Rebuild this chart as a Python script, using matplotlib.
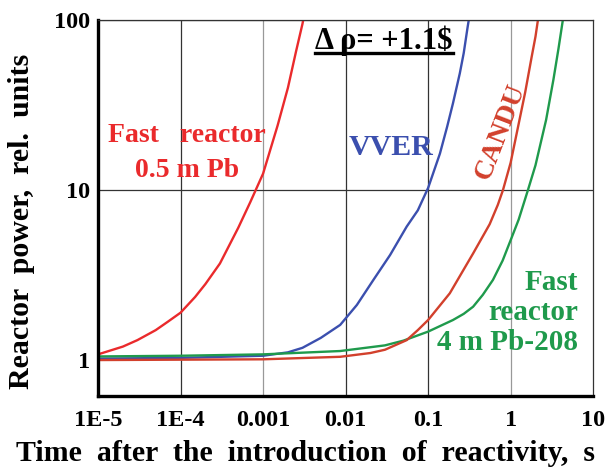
import matplotlib

matplotlib.use("Agg")
import matplotlib.pyplot as plt
from matplotlib.lines import Line2D

plt.rcParams["font.family"] = ["Liberation Serif", "DejaVu Serif"]
plt.rcParams["font.weight"] = "bold"

# data (time in s, power in rel. units)
fr_pb_t = [1e-5, 2e-5, 3e-5, 5e-5, 7e-5, 1e-4, 1.5e-4, 2e-4, 3e-4, 5e-4, 7e-4,
           1e-3, 1.5e-3, 2e-3, 2.5e-3, 3e-3, 3.3e-3]
fr_pb_p = [1.08, 1.2, 1.31, 1.5, 1.68, 1.9, 2.35, 2.8, 3.7, 6.0, 8.5,
           12.5, 24, 40, 65, 95, 120]

vver_t = [1e-5, 1e-4, 1e-3, 2e-3, 3e-3, 5e-3, 0.0086, 0.0137, 0.0217, 0.0346,
          0.055, 0.075, 0.1, 0.139, 0.17, 0.2, 0.242, 0.27, 0.3, 0.33]
vver_p = [1.02, 1.03, 1.06, 1.11, 1.18, 1.35, 1.61, 2.11, 2.96, 4.15,
          6.1, 7.6, 10.3, 16.4, 23.6, 32.4, 48.6, 64, 90, 120]

candu_t = [1e-5, 1e-3, 0.0086, 0.02, 0.03, 0.055, 0.075, 0.1, 0.183, 0.25,
           0.351, 0.557, 0.7, 0.807, 1.0, 1.28, 1.5, 1.8, 2.0, 2.14, 2.25]
candu_p = [1.0, 1.01, 1.045, 1.1, 1.15, 1.31, 1.5, 1.72, 2.47, 3.2,
           4.24, 6.3, 8.2, 10.0, 14.5, 25.9, 37.6, 61, 80, 100, 118]

fr_pb208_t = [1e-5, 1e-4, 1e-3, 0.0086, 0.03, 0.05, 0.1, 0.2, 0.27, 0.351,
              0.46, 0.61, 0.8, 1.02, 1.25, 1.62, 2.0, 2.69, 3.3, 3.8, 4.29, 4.6]
fr_pb208_p = [1.05, 1.06, 1.08, 1.13, 1.22, 1.3, 1.47, 1.72, 1.87, 2.06,
              2.42, 2.96, 3.85, 5.2, 6.7, 10.0, 14.0, 25.9, 44.7, 68, 100, 120]

x_ticks = [1e-5, 1e-4, 1e-3, 1e-2, 1e-1, 1, 10]
x_labels = ["1E-5", "1E-4", "0.001", "0.01", "0.1", "1", "10"]
y_ticks = [1, 10, 100]
y_labels = ["1", "10", "100"]

RED = "#ea2a2c"
BLUE = "#3b4fae"
CANDU_RED = "#d2402c"
GREEN = "#1f9a4c"

fig = plt.figure(figsize=(6.09, 4.68), dpi=100)
ax = fig.add_axes([0.161, 0.154, 0.813, 0.803])

ax.plot(fr_pb_t, fr_pb_p, color=RED, lw=1.7)
ax.plot(vver_t, vver_p, color=BLUE, lw=1.7)
ax.plot(fr_pb208_t, fr_pb208_p, color=GREEN, lw=1.7)
ax.plot(candu_t, candu_p, color=CANDU_RED, lw=1.7)

ax.set_xscale("log")
ax.set_yscale("log")
ax.set_xlim(1e-5, 10)
ax.set_ylim(0.615, 100)
ax.set_xticks(x_ticks)
ax.set_xticklabels(x_labels)
ax.set_yticks(y_ticks)
ax.set_yticklabels(y_labels)
ax.minorticks_off()
ax.tick_params(length=0, labelsize=17.5)
ax.tick_params(axis="x", pad=10)
ax.tick_params(axis="y", pad=6)
for lab in ax.get_xticklabels() + ax.get_yticklabels():
    lab.set_fontweight("bold")

# grid, some verticals lighter as in the source
for x in x_ticks[1:-1]:
    col = "#999999" if x in (1e-3, 1) else "#333333"
    ax.axvline(x, color=col, lw=0.9, zorder=0)
for y in y_ticks[1:]:
    ax.axhline(y, color="#333333", lw=0.9, zorder=0)

for side in ("left", "bottom"):
    ax.spines[side].set_linewidth(2.4)
    ax.spines[side].set_color("black")
for side in ("top", "right"):
    ax.spines[side].set_linewidth(0.9)
    ax.spines[side].set_color("#333333")

ax.set_xlabel("Time  after  the  introduction  of  reactivity,  s",
              fontsize=21.5, fontweight="bold")
ax.xaxis.set_label_coords(0.42, -0.118)
ax.set_ylabel("Reactor  power,  rel.  units", fontsize=21.5,
              fontweight="bold")
ax.yaxis.set_label_coords(-0.128, 0.465)

# curve labels
ax.text(1.2e-4, 16.5, "Fast   reactor\n0.5 m Pb", color=RED, fontsize=20,
        fontweight="bold", ha="center", va="center", multialignment="center",
        linespacing=1.5)
ax.text(0.035, 17.7, "VVER", color=BLUE, fontsize=21.5, fontweight="bold",
        ha="center", va="center")
ax.text(0.75, 22, "CANDU", color=CANDU_RED, fontsize=20, fontweight="bold",
        ha="center", va="center", rotation=69)
ax.text(6.6, 1.9, "Fast\nreactor\n4 m Pb-208", color=GREEN, fontsize=21,
        fontweight="bold", ha="right", va="center", multialignment="right",
        linespacing=1.15)

title = ax.text(0.029, 68, "\u0394 \u03c1= +1.1$", color="black", fontsize=22,
                fontweight="bold", ha="center", va="baseline")

# underline for the reactivity label
fig.canvas.draw()
bb = title.get_window_extent().transformed(fig.transFigure.inverted())
y_ul = (468 - 53) / 468
fig.add_artist(Line2D([bb.x0, bb.x1], [y_ul, y_ul],
                      transform=fig.transFigure, color="black", lw=2.4))

fig.savefig("out.png", dpi=100)
